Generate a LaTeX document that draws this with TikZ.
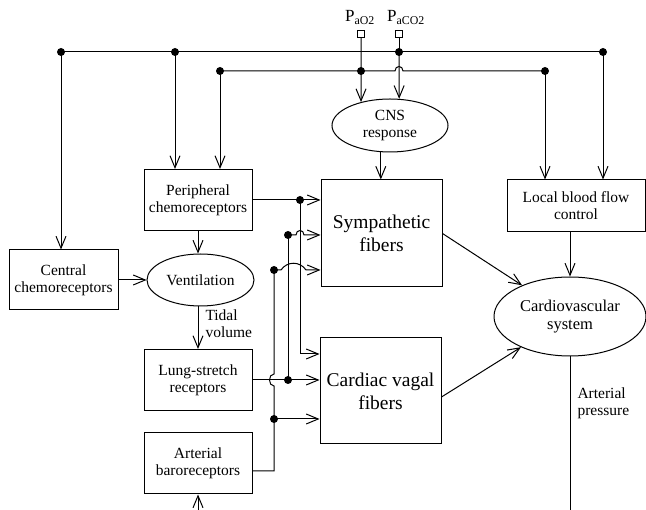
\documentclass[tikz,border=0pt]{standalone}
\usepackage{fontspec}
\setmainfont{Liberation Serif}
\usetikzlibrary{arrows.meta,shapes.geometric,calc}

\tikzset{
  box/.style={draw,rectangle,align=center,inner sep=0pt,font=\fontsize{15.5}{17}\selectfont},
  fibbox/.style={draw,rectangle,align=center,inner sep=0pt,minimum width=121pt,font=\fontsize{19.5}{23}\selectfont},
  oval/.style={draw,ellipse,align=center,inner sep=0pt,font=\fontsize{15.5}{17}\selectfont},
  probe/.style={draw,fill=white,rectangle,inner sep=0pt,minimum size=7pt,line width=0.8pt},
  arr/.style={-{Straight Barb[length=12pt,width=10pt]}},
  lbl/.style={align=left,anchor=west,inner sep=0pt,font=\fontsize{15.5}{17}\selectfont},
  gas/.style={anchor=base,inner sep=0pt,font=\fontsize{17}{19}\selectfont},
}

\begin{document}
\begin{tikzpicture}[x=1pt,y=-1pt,line width=1pt]
\useasboundingbox (0,0) rectangle (646,510);

% blocks
\node[box,minimum width=108pt,minimum height=61pt] (per) at (198,200) {Peripheral\\chemoreceptors};
\node[box,minimum width=109pt,minimum height=60pt] (cen) at (63.5,280) {Central\\chemoreceptors};
\node[oval,minimum width=107pt,minimum height=52pt] (ven) at (200.5,280) {Ventilation};
\node[box,minimum width=108pt,minimum height=61pt] (lung) at (198,380) {Lung-stretch\\receptors};
\node[box,minimum width=108pt,minimum height=61pt] (baro) at (198,463.5) {Arterial\\baroreceptors};
\node[fibbox,minimum height=107pt] (sym) at (381.5,233.5) {Sympathetic\\fibers};
\node[fibbox,minimum height=106pt] (vag) at (380.5,391) {Cardiac vagal\\fibers};
\node[oval,minimum width=116pt,minimum height=53pt] (cns) at (390,125.5) {CNS\\response};
\node[box,minimum width=138pt,minimum height=52pt] (loc) at (576,206) {Local blood flow\\control};
\node[oval,minimum width=152pt,minimum height=79pt,font=\fontsize{16.5}{18.5}\selectfont] (cvs) at (570,316.5) {Cardiovascular\\system};

% blood gases
\node[probe] (pO) at (361,33.5) {};
\node[probe] (pC) at (399,33.5) {};
\node[gas] (lO) at (360,22) {P\textsubscript{aO2}};
\node[gas] (lC) at (406,22) {P\textsubscript{aCO2}};

% feedback lines
\coordinate (j1) at (61,52);
\coordinate (j2) at (175,52);
\coordinate (j3) at (399,52);
\coordinate (j4) at (603,52);
\coordinate (k1) at (220,71);
\coordinate (k2) at (361,71);
\coordinate (k3) at (545,71);

\draw (j1) -- (j4);
\draw (k1) -- ($(j3 |- k1)+(-4,0)$) .. controls +(0,-6) and +(0,-6) .. ($(j3 |- k1)+(4,0)$) -- (k3);
\draw (pC) -- (j3);
\draw[arr] (j3) -- (cns.71);
\draw[arr] (pO) -- (cns.141.6);
\draw[arr] (j1) -- (j1 |- cen.north);
\draw[arr] (j2) -- (j2 |- per.north);
\draw[arr] (k1) -- (k1 |- per.north);
\draw[arr] (k3) -- (k3 |- loc.north);
\draw[arr] (j4) -- (j4 |- loc.north);
\draw[arr] (cns.251) -- (cns.251 |- sym.north);

% respiration
\draw[arr] (cen) -- (ven);
\draw[arr] (per.south) -- (per.south |- ven.north);
\draw[arr] (ven.south -| lung.north) -- (lung.north);
\node[lbl] (tid) at (205,324) {Tidal\\volume};
\coordinate (bin) at (198,510);
\draw[arr] (bin) -- (baro.south);

% afferent wiring
\coordinate (n1) at (300,200);
\coordinate (n2) at (288,235);
\coordinate (n3) at (274,270);
\coordinate (n4) at (288,380);
\coordinate (n5) at (274,419);
\coordinate (n6) at (274,471);
\coordinate (n7) at (300,354);

\draw[arr] (per.east) -- (sym.west |- per.east);
\draw[arr] (n1) -- (n7) -- (vag.west |- n7);
\draw[arr] (n2) -- ($(n1 |- n2)+(-4,0)$) .. controls +(0,-6) and +(0,-6) .. ($(n1 |- n2)+(4,0)$) -- (sym.west |- n2);
\draw (n2) -- (n4);
\draw[arr] (n3) -- ($(n2 |- n3)+(-7,0)$) .. controls +(6,-9) and +(-6,-9) .. ($(n1 |- n3)+(6,0)$) -- (sym.west |- n3);
\draw[arr] (lung.east) -- (vag.west |- lung.east);
\draw (n3) -- ($(n3 |- lung.east)+(0,-6)$) .. controls +(-6,0) and +(-6,0) .. ($(n3 |- lung.east)+(0,6)$) -- (n6) -- (baro.east |- n6);
\draw[arr] (n5) -- (vag.west |- n5);

\foreach \p in {j1,j2,j3,j4,k1,k2,k3,n1,n2,n3,n4,n5}
  \fill (\p) circle (4pt);

% circulation
\draw[arr] (cvs.north |- loc.south) -- (cvs.north);
\draw[arr] (sym.east) -- (cvs);
\draw[arr] ([yshift=-6pt]vag.east) -- (cvs);
\coordinate (pend) at (0,510);
\draw (cvs.south) -- (cvs.south |- pend);
\node[lbl] (apr) at (577,403) {Arterial\\pressure};
\end{tikzpicture}
\end{document}
